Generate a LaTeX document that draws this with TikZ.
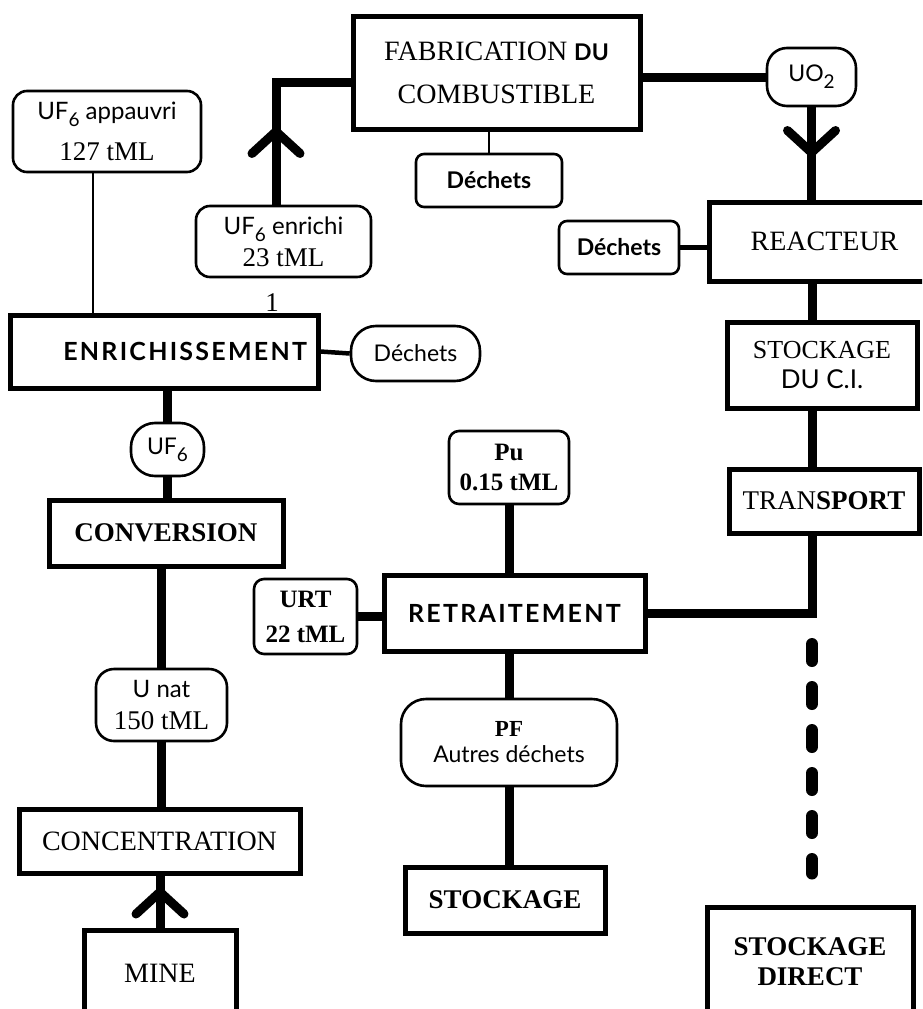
\documentclass[tikz,border=0pt]{standalone}
\usepackage{fontspec}
\setmainfont{Liberation Serif}
\setsansfont{Lato}
\usetikzlibrary{arrows.meta,calc}
\newcommand{\lowfig}[1]{\raisebox{-7pt}{\fontsize{19}{19}\selectfont #1}}

\begin{document}
\begin{tikzpicture}[x=1pt,y=-1pt,
    box/.style={draw, line width=5pt, inner sep=0pt, align=center,
      font=\fontsize{27}{30}\selectfont},
    bbox/.style={box, font=\fontsize{27}{30}\selectfont\bfseries},
    sbox/.style={box, font=\fontsize{25}{30}\selectfont\sffamily\bfseries\addfontfeature{LetterSpace=9}},
    pill/.style={draw, rounded corners=8pt, line width=2.6pt, inner sep=0pt, align=center,
      font=\fontsize{23}{28}\selectfont\sffamily},
    flow/.style={line width=9pt},
    link/.style={line width=4.5pt},
    hair/.style={line width=1.6pt},
    barb/.style={-{Straight Barb[length=22pt,width=48pt,round]}},
    dashflow/.style={line width=12pt, line cap=round, dash pattern=on 17pt off 26pt}]
          \useasboundingbox (0,0) rectangle (922,1009);
          \clip (0,0) rectangle (922,1009);

          \node[box, minimum width=287pt, minimum height=113pt, font=\fontsize{28}{43}\selectfont]
            (fab) at (496.5,72.5) {FABRICATION {\sffamily\bfseries\fontsize{23}{43}\selectfont DU}\\COMBUSTIBLE};
          \node[pill, rounded corners=14pt, minimum width=188pt, minimum height=81pt,
            font=\fontsize{24}{41}\selectfont\sffamily]
            (appauvri) at (107,131.5) {UF\lowfig{6} appauvri\\\rmfamily\fontsize{27}{41}\selectfont 127 tML};
          \node[pill, rounded corners=14pt, minimum width=175pt, minimum height=71pt,
            font=\fontsize{24}{32}\selectfont\sffamily]
            (enrichi) at (283.5,241.5) {UF\lowfig{6} enrichi\\\rmfamily\fontsize{27}{32}\selectfont 23 tML};
          \node[pill, minimum width=146pt, minimum height=53pt, font=\fontsize{23}{28}\selectfont\sffamily\bfseries]
            (dechfab) at (489,180.5) {Déchets};
          \node[pill, rounded corners=20pt, minimum width=89pt, minimum height=58pt]
            (uo) at (811.5,77) {UO\lowfig{2}};
          \node[box, minimum width=231pt, minimum height=79pt, font=\fontsize{28}{30}\selectfont]
            (reacteur) at (824.5,241.5) {REACTEUR};
          \node[pill, minimum width=120pt, minimum height=53pt, font=\fontsize{23}{28}\selectfont\sffamily\bfseries]
            (dechreac) at (619,247.5) {Déchets};
          \node[box, minimum width=190pt, minimum height=86pt, font=\fontsize{26}{30}\selectfont]
            (stockci) at (822,365) {STOCKAGE\\\sffamily DU C.I.};
          \node[box, minimum width=190pt, minimum height=64pt, font=\fontsize{27}{30}\selectfont]
            (transport) at (824,501) {TRAN\textbf{SPORT}};
          \node[bbox, minimum width=206pt, minimum height=110pt] (direct) at (810,962) {STOCKAGE\\DIRECT};

          \node[sbox, minimum width=308pt, minimum height=73pt, text width=286pt, align=right]
            (enrich) at (164,351.5) {ENRICHISSEMENT};
          \node[pill, rounded corners=25pt, minimum width=129pt, minimum height=55pt]
            (dechenr) at (415.5,353.5) {Déchets};
          \node[font=\fontsize{27}{30}\selectfont, inner sep=0pt] (one) at (272,303) {1};
          \node[pill, rounded corners=24pt, minimum width=73pt, minimum height=53pt]
            (uf) at (167.5,449.5) {UF\lowfig{6}};
          \node[bbox, minimum width=234pt, minimum height=66pt] (conv) at (166,533) {CONVERSION};
          \node[pill, rounded corners=18pt, minimum width=131pt, minimum height=72pt,
            font=\fontsize{24}{32}\selectfont\sffamily]
            (unat) at (161.5,705) {U nat\\\rmfamily\fontsize{27}{32}\selectfont 150 tML};
          \node[box, minimum width=281pt, minimum height=64pt, font=\fontsize{28}{30}\selectfont]
            (conc) at (159.5,841) {CONCENTRATION};
          \node[box, minimum width=152pt, minimum height=86pt, font=\fontsize{28}{30}\selectfont]
            (mine) at (160,973) {MINE};

          \node[pill, rounded corners=10pt, minimum width=103pt, minimum height=75pt,
            font=\fontsize{25}{35}\selectfont\rmfamily\bfseries]
            (urt) at (305.5,616.5) {URT\\22 tML};
          \node[sbox, minimum width=261pt, minimum height=76pt] (retr) at (514.5,613) {RETRAITEMENT};
          \node[pill, rounded corners=10pt, minimum width=120pt, minimum height=73pt,
            font=\fontsize{25}{30}\selectfont\rmfamily\bfseries]
            (pu) at (509,467.5) {Pu\\0.15 tML};
          \node[pill, rounded corners=25pt, minimum width=216pt, minimum height=87pt,
            font=\fontsize{23}{26}\selectfont\sffamily]
            (pf) at (509,742.5) {{\rmfamily\bfseries PF}\\Autres déchets};
          \node[bbox, minimum width=200pt, minimum height=66pt] (stock) at (505,900) {STOCKAGE};

          \coordinate (bendA) at (276,82);
          \coordinate (tipA) at (276,127);
          \coordinate (tipB) at (811.5,157);
          \coordinate (colR) at (812,0);

          \draw[flow] (enrichi.north -| bendA) -- (bendA) -- (bendA -| fab.west);
          \draw[flow, barb] (enrichi.north -| tipA) -- (tipA);
          \draw[flow] (fab.east |- uo.west) -- (uo.west);
          \draw[flow] (uo.south) -- (uo.south |- reacteur.north);
          \draw[flow, barb] (uo.south) -- (tipB);
          \draw[hair] (dechfab.north) -- (dechfab.north |- fab.south);
          \draw[link] (dechreac.east) -- (dechreac.east -| reacteur.west);
          \draw[flow] (reacteur.south -| colR) -- (stockci.north -| colR);
          \draw[flow] (stockci.south -| colR) -- (transport.north -| colR);
          \draw[flow] (transport.south -| colR) |- (retr.east);
          \draw[dashflow, shorten <=31pt, shorten >=31pt] (retr.east -| colR) -- (direct.north -| colR);

          \draw[line width=2.6pt] ([xshift=-14pt]appauvri.south) -- ([xshift=-14pt]appauvri.south |- enrich.north);
          \draw[link] (enrich.east) -- (dechenr.west);
          \draw[flow] (uf.north) -- (uf.north |- enrich.south);
          \draw[flow] (uf.south) -- (uf.south |- conv.north);
          \draw[flow] (unat.north) -- (unat.north |- conv.south);
          \draw[flow] (unat.south) -- (unat.south |- conc.north);
          \draw[flow] (mine.north) -- (mine.north |- conc.south);
          \draw[flow, barb] (mine.north) -- ([yshift=-12pt]mine.north |- conc.south);

          \draw[flow] (urt.east) -- (urt.east -| retr.west);
          \draw[flow] (pu.south) -- (pu.south |- retr.north);
          \draw[flow] (pf.north) -- (pf.north |- retr.south);
          \draw[flow] (pf.south) -- (pf.south |- stock.north);
        \end{tikzpicture}
\end{document}
